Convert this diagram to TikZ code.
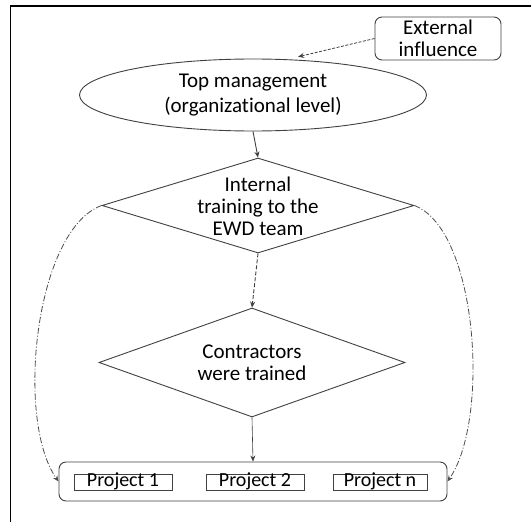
\documentclass[tikz,border=0pt]{standalone}
\usepackage{fontspec}
\setmainfont[Ligatures=NoCommon]{Carlito}
\usetikzlibrary{shapes.geometric,arrows.meta}

\tikzset{
  edge/.style={draw=black!75, line width=0.9pt},
  txt/.style={align=center, font=\fontsize{21}{22}\selectfont, inner sep=0pt},
  ovalbox/.style={edge, shape=ellipse, minimum width=347pt, minimum height=72pt, inner sep=0pt,
                  align=center, font=\fontsize{21}{25}\selectfont},
  decision/.style={edge, shape=diamond, inner sep=0pt},
  roundbox/.style={edge, rounded corners=7pt, inner sep=0pt},
  projbox/.style={draw=black!75, line width=0.8pt, inner sep=0pt, minimum height=16pt,
                  text height=12pt, text depth=3.5pt, font=\fontsize{20}{22}\selectfont},
  tip/.style={-{Stealth[length=6pt,width=5pt]}},
  link/.style={edge, tip},
  curvelink/.style={draw=black!70, line width=0.8pt, dash pattern=on 6pt off 2pt on 1pt off 2pt, tip},
}

\begin{document}
\begin{tikzpicture}[x=1pt,y=-1pt]
  \useasboundingbox (0,0) rectangle (531,522);

  % page frame (top and left rules)
  \draw[line width=1.5pt] (10.5,522) -- (10.5,6) -- (531,6);

  % external influence
  \node[roundbox, minimum width=126pt, minimum height=43pt, txt] (ext) at (438,38.5)
    {External\\influence};

  % top management
  \node[ovalbox] (top) at (253,95) {Top management\\(organizational level)};

  % internal training
  \node[decision, minimum width=312pt, minimum height=95pt] (d1) at (258,205.5) {};
  \node[txt] (d1t) at (258,206) {Internal\\training to the\\EWD team};

  % contractors
  \node[decision, minimum width=306pt, minimum height=109pt] (d2) at (252,362.5) {};
  \node[txt] (d2t) at (252,363) {Contractors\\were trained};

  % projects container
  \node[roundbox, minimum width=388pt, minimum height=39pt] (proj) at (253,481.5) {};
  \node[projbox, minimum width=98pt] (p1) at (123,482) {Project 1};
  \node[projbox, minimum width=98pt] (p2) at (255,482) {Project 2};
  \node[projbox, minimum width=94pt] (pn) at (380,482) {Project n};

  % connectors
  \draw[edge, tip, dashed, dash pattern=on 3pt off 1.5pt, line width=0.8pt]
    (ext.west) -- ([shift={(0,-3)}]top.38);
  \draw[link] (top.south) -- (d1.north);
  \draw[edge, tip, dash pattern=on 4pt off 2pt] (d1.south) -- (d2.north);
  \draw[link, line width=0.6pt] (d2.south) -- (proj.north);

  \draw[curvelink] (d1.west) .. controls (35,230) and (15,420) .. (proj.west);
  \draw[curvelink] (d1.east) .. controls (478,230) and (490,420) .. (proj.east);
\end{tikzpicture}
\end{document}
